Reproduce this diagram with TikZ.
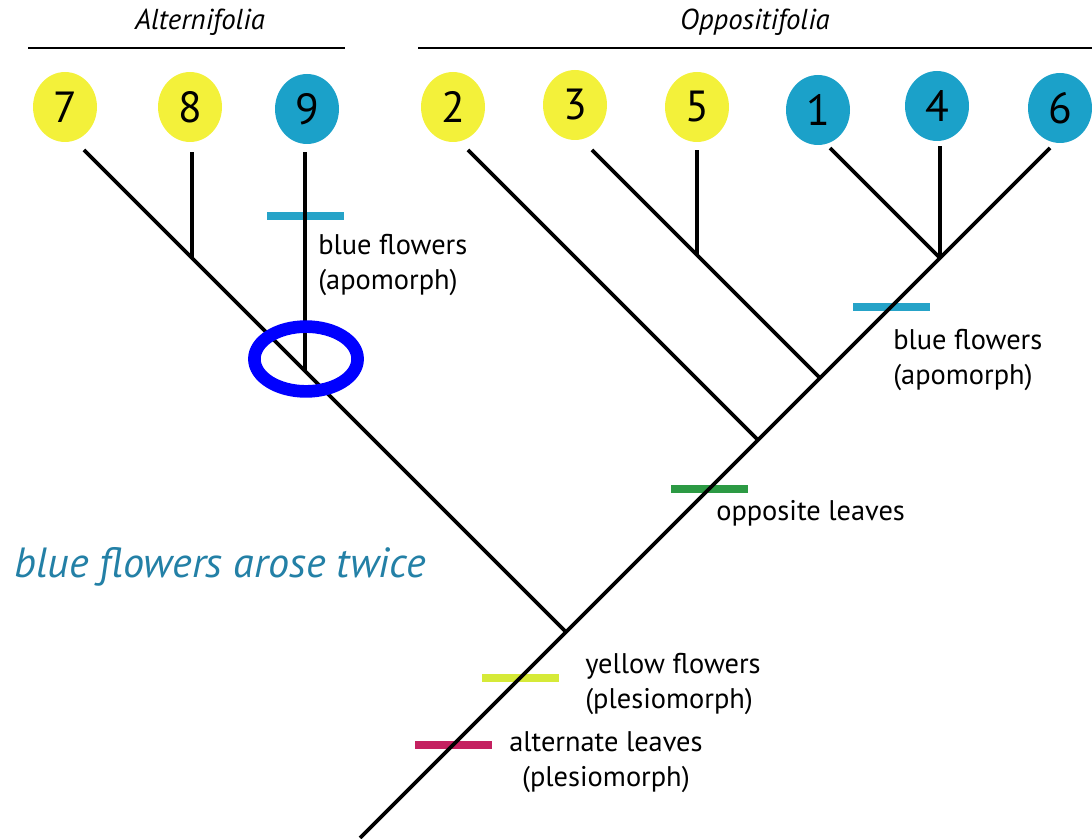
\documentclass[tikz,border=0pt]{standalone}
\usepackage{fontspec}
\setmainfont{PT Sans}
\usetikzlibrary{shapes.geometric}

\definecolor{tipyellow}{RGB}{243,241,58}
\definecolor{tipblue}{RGB}{27,161,201}
\definecolor{barblue}{RGB}{38,163,200}
\definecolor{bargreen}{RGB}{44,154,68}
\definecolor{baryellow}{RGB}{214,234,56}
\definecolor{barred}{RGB}{196,33,96}
\definecolor{noteblue}{RGB}{35,128,166}

\tikzset{
	taxon/.style={ellipse, minimum width=1.6cm, minimum height=1.75cm, inner sep=0pt, font=\fontsize{31}{31}\selectfont},
	yel/.style={taxon, fill=tipyellow},
	blu/.style={taxon, fill=tipblue},
	branch/.style={line width=2.6pt},
	trait/.style={minimum width=1.925cm, minimum height=0.2cm, inner sep=0pt},
	lab/.style={font=\fontsize{20.2}{25}\selectfont, inner sep=0pt, align=left, anchor=north west},
	clade/.style={font=\itshape\fontsize{20.5}{24}\selectfont}
}

\begin{document}
\begin{tikzpicture}
		\useasboundingbox (0,0) rectangle (27.3,20.95);
		% clade headings
		\node[clade] (alt) at (5.0,20.4) {Alternifolia};
		\node[clade] (opp) at (18.875,20.4) {Oppositifolia};
		\draw[line width=1.6pt] (0.7,19.75) -- (8.625,19.75);
		\draw[line width=1.6pt] (10.45,19.75) -- (27.3,19.75);
		% species
		\node[yel] (s7) at (1.625,18.275) {7};
		\node[yel] (s8) at (4.75,18.275) {8};
		\node[blu] (s9) at (7.675,18.225) {9};
		\node[yel] (s2) at (11.325,18.275) {2};
		\node[yel] (s3) at (14.375,18.325) {3};
		\node[yel] (s5) at (17.425,18.275) {5};
		\node[blu] (s1) at (20.45,18.2) {1};
		\node[blu] (s4) at (23.425,18.3) {4};
		\node[blu] (s6) at (26.5,18.25) {6};
		% character changes
		\node[trait, fill=barblue] (b9) at (7.625,15.55) {};
		\node[trait, fill=barblue] (b146) at (22.275,13.275) {};
		\node[trait, fill=bargreen] (bopp) at (17.725,8.725) {};
		\node[trait, fill=baryellow] (byel) at (13.0,4.0) {};
		\node[trait, fill=barred] (balt) at (11.325,2.325) {};
		% junctions and branch tips
		\coordinate (root) at (9,0);
		\coordinate (jA) at (14.15,5.15);
		\coordinate (jB) at (18.95,9.95);
		\coordinate (jC) at (20.5,11.5);
		\coordinate (jD) at (23.5,14.5);
		\coordinate (j8) at (4.8,14.5);
		\coordinate (j9) at (7.625,11.675);
		\coordinate (j5) at (17.425,14.575);
		\coordinate (t7) at (2.1,17.2);
		\coordinate (t8) at (4.8,17.15);
		\coordinate (t9) at (7.625,17.15);
		\coordinate (t2) at (11.7,17.2);
		\coordinate (t3) at (14.8,17.2);
		\coordinate (t5) at (17.425,17.2);
		\coordinate (t1) at (20.75,17.25);
		\coordinate (t4) at (23.5,17.3);
		\coordinate (t6) at (26.25,17.25);
		% tree
		\draw[branch] (root) -- (jA) -- (jB) -- (jC) -- (jD) -- (t6);
		\draw[branch] (jA) -- (j9) -- (j8) -- (t7);
		\draw[branch] (j8) -- (t8);
		\draw[branch] (j9) -- (t9);
		\draw[branch] (jB) -- (t2);
		\draw[branch] (jC) -- (j5) -- (t3);
		\draw[branch] (j5) -- (t5);
		\draw[branch] (jD) -- (t1);
		\draw[branch] (jD) -- (t4);
		% labels
		\node[lab] (l9) at (7.95,15.1) {blue flowers\\(apomorph)};
		\node[lab] (l146) at (22.325,12.725) {blue flowers\\(apomorph)};
		\node[lab] (lopp) at (17.9,8.45) {opposite leaves};
		\node[lab] (lyel) at (14.625,4.625) {yellow flowers\\(plesiomorph)};
		\node[lab, align=center] (lalt) at (12.725,2.675) {alternate leaves\\(plesiomorph)};
		\node[anchor=west, inner sep=0pt, text=noteblue, font=\itshape\fontsize{30}{30}\selectfont] (note) at (0.35,6.775) {blue flowers arose twice};
		% highlight
		\draw[blue, line width=9pt] (7.65,11.975) ellipse (1.29cm and 0.81cm);
	\end{tikzpicture}
\end{document}
